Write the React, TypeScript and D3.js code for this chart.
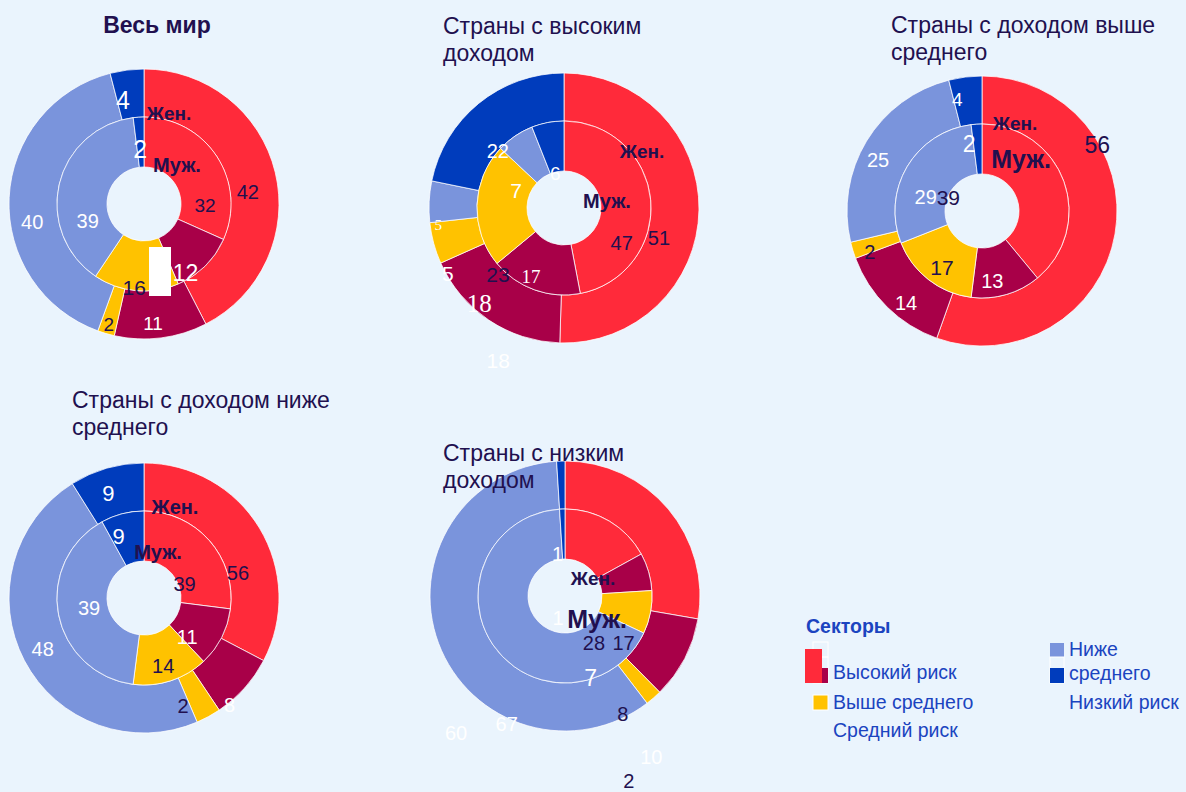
import React, { useEffect, useRef } from 'react';
import * as d3 from 'd3';

// sectors (legend order) and their colours
const categories = ['Высокий риск', 'Выше среднего', 'Средний риск', 'Ниже среднего', 'Низкий риск'];
const sectorColors = ['#ff2a3a', '#a80048', '#ffc200', '#7a94dc', '#003cbc'];

const panelTitles = [
  ['Весь мир'],
  ['Страны с высоким', 'доходом'],
  ['Страны с доходом выше', 'среднего'],
  ['Страны с доходом ниже', 'среднего'],
  ['Страны с низким', 'доходом'],
];

// outer ring = Жен., inner ring = Муж. (slice sizes)
const womenValues = [
  [42, 11, 2, 40, 4],
  [51, 18, 5, 5, 22],
  [56, 14, 2, 25, 4],
  [33, 8, 3, 48, 9],
  [28, 10, 2, 60, 1],
];
const menValues = [
  [32, 12, 16, 39, 2],
  [47, 17, 23, 7, 6],
  [39, 13, 17, 29, 2],
  [27, 11, 14, 40, 8],
  [17, 7, 8, 67, 1],
];

// printed labels (not always equal to the slice size)
const womenLabels = [
  ['42', '11', '2', '40', '4'],
  ['51', '18', '5', '5', '22'],
  ['56', '14', '2', '25', '4'],
  ['56', '8', '2', '48', '9'],
  ['28', '10', '2', '60', '1'],
];
const menLabels = [
  ['32', '12', '16', '39', '2'],
  ['47', '17', '23', '7', '6'],
  ['39', '13', '17', '29', '2'],
  ['39', '11', '14', '39', '9'],
  ['17', '7', '8', '67', '1'],
];

// ---- layout / style (not data) ----
const W = 1186;
const H = 792;
const BG = '#eaf4fd';
const DARK = '#21104f';
const LEGEND_BLUE = '#1b44c0';
const SANS = '"Liberation Sans", Arial, sans-serif';
const SERIF = '"Liberation Serif", "Times New Roman", serif';

const centers = [[144, 204], [564, 208], [982, 211], [144, 598], [565, 596]];
const R_OUT = 135;
const R_MID = 87;
const R_IN = 37;

// label nudges from the arc centroid: [dx, dy, fontSize, tone, serif]
type Nudge = [number, number, number, 'd' | 'w', boolean?];
const womenNudges: Nudge[][] = [
  [[-4, 14, 20, 'd'], [-5, 9, 19, 'w'], [-4, 14, 19, 'd'], [-1, 23, 20, 'w'], [-7, 6, 25, 'w']],
  [[-16, 28, 20, 'd'], [-23, 3, 25, 'w', true], [-9, 36, 21, 'w'], [-15, 22, 15, 'w', true], [4, 29, 20, 'w']],
  [[6, -85, 23, 'd'], [2, 13, 20, 'w'], [-6, 9, 20, 'd'], [-9, 6, 20, 'w'], [-11, -1, 19, 'w']],
  [[-1, 32, 20, 'd'], [3, 33, 20, 'w'], [-14, 10, 20, 'd'], [-3, 0, 20, 'w'], [-5, 2, 22, 'w']],
  [[-56, 118, 20, 'd'], [-12, 110, 20, 'w'], [-9, 101, 20, 'd'], [-5, 98, 20, 'w'], [-4, 69, 20, 'w']],
];
const menNudges: Nudge[][] = [
  [[9, 35, 19, 'd'], [-2, 25, 23, 'w'], [-4, 22, 21, 'd'], [4, 31, 20, 'w'], [0, 7, 25, 'w']],
  [[-4, 41, 20, 'd'], [-12, 10, 19, 'w', true], [-4, 68, 21, 'd'], [-13, 34, 21, 'w'], [3, 26, 19, 'w']],
  [[-92, 7, 21, 'd'], [-7, 10, 20, 'w'], [-2, 8, 21, 'd'], [-3, 18, 20, 'w'], [-9, -5, 23, 'w']],
  [[-6, 27, 20, 'd'], [-12, 11, 20, 'w'], [0, 9, 20, 'd'], [6, -2, 20, 'w'], [-10, -1, 22, 'w']],
  [[27, 100, 20, 'd'], [-34, 99, 23, 'w'], [-3, 106, 20, 'd'], [-7, 93, 20, 'w'], [-5, 84, 20, 'w']],
];
// duplicated "18" printed under the high-income chart (outer crimson slice)
const extraLabel = { panel: 1, slice: 1, text: '18', dx: -4, dy: 60, size: 21 };

// "Жен." / "Муж." captions relative to the chart centre: [dx, dy, size]
const womenCaption = [[25, -91, 19], [78, -57, 19], [33, -88, 19], [31, -91, 20], [28, -18, 19]];
const menCaption = [[33, -39, 20], [43, -7, 20], [39, -52, 25], [14, -46, 20], [32, 23, 25]];

// titles: [x, firstBaseline, anchor, bold]
const titlePos: [number, number, string, boolean][] = [
  [157, 33, 'middle', true],
  [443, 34, 'start', false],
  [891, 33, 'start', false],
  [72, 408, 'start', false],
  [443, 461, 'start', false],
];

// legend swatches: [category index, x, y, w, h, outlined]
const legendSwatches: [number, number, number, number, number, boolean][] = [
  [-1, 813, 642, 15, 15, true],
  [-1, 813, 657, 15, 26, true],
  [1, 813, 668, 15, 15, false],
  [0, 805, 649, 17, 34, false],
  [2, 813, 695, 15, 15, true],
  [3, 1050, 643, 14, 14, false],
  [-1, 1050, 657, 14, 26, true],
  [4, 1050, 668, 14, 15, false],
];
const legendTexts: [string, number, number][] = [
  ['Высокий риск', 833, 679],
  ['Выше среднего', 833, 709],
  ['Средний риск', 833, 737],
  ['Ниже', 1069, 656],
  ['среднего', 1069, 680],
  ['Низкий риск', 1069, 709],
];

const App = () => {
  const svgRef = useRef<SVGSVGElement>(null);

  useEffect(() => {
    const svg = d3.select(svgRef.current);
    svg.selectAll('*').remove();

    svg.append('rect').attr('width', W).attr('height', H).attr('fill', BG);

    const color = d3.scaleOrdinal<number, string>().domain(d3.range(categories.length)).range(sectorColors);
    const pie = d3.pie<number>().sort(null).value(d => d);
    const outerArc = d3.arc<d3.PieArcDatum<number>>().innerRadius(R_MID).outerRadius(R_OUT);
    const innerArc = d3.arc<d3.PieArcDatum<number>>().innerRadius(R_IN).outerRadius(R_MID);

    centers.forEach(([cx, cy], p) => {
      const g = svg.append('g').attr('transform', `translate(${cx},${cy})`);

      const rings = [
        { values: womenValues[p], labels: womenLabels[p], nudges: womenNudges[p], arc: outerArc },
        { values: menValues[p], labels: menLabels[p], nudges: menNudges[p], arc: innerArc },
      ];

      const arcsByRing = rings.map(ring => pie(ring.values));

      rings.forEach((ring, r) => {
        g.append('g')
          .selectAll('path')
          .data(arcsByRing[r])
          .enter()
          .append('path')
          .attr('d', ring.arc)
          .attr('fill', (d, i) => color(i))
          .attr('stroke', '#ffffff')
          .attr('stroke-opacity', 0.75)
          .attr('stroke-width', 1);
      });

      rings.forEach((ring, r) => {
        arcsByRing[r].forEach((d, i) => {
          const [x, y] = ring.arc.centroid(d);
          const [dx, dy, size, tone, serif] = ring.nudges[i];
          g.append('text')
            .attr('x', x + dx)
            .attr('y', y + dy)
            .attr('text-anchor', 'middle')
            .attr('dominant-baseline', 'central')
            .attr('fill', tone === 'd' ? DARK : '#ffffff')
            .style('font-family', serif ? SERIF : SANS)
            .style('font-size', `${size}px`)
            .text(ring.labels[i]);
        });
      });

      if (extraLabel.panel === p) {
        const [x, y] = outerArc.centroid(arcsByRing[0][extraLabel.slice]);
        g.append('text')
          .attr('x', x + extraLabel.dx)
          .attr('y', y + extraLabel.dy)
          .attr('text-anchor', 'middle')
          .attr('dominant-baseline', 'central')
          .attr('fill', '#ffffff')
          .style('font-family', SANS)
          .style('font-size', `${extraLabel.size}px`)
          .text(extraLabel.text);
      }

      [[womenCaption[p], 'Жен.'], [menCaption[p], 'Муж.']].forEach(([pos, txt]) => {
        const [dx, dy, size] = pos as number[];
        g.append('text')
          .attr('x', dx)
          .attr('y', dy)
          .attr('text-anchor', 'middle')
          .attr('dominant-baseline', 'central')
          .attr('fill', DARK)
          .style('font-family', SANS)
          .style('font-weight', 'bold')
          .style('font-size', `${size}px`)
          .text(txt as string);
      });

      // stray white block on the world chart
      if (p === 0) {
        g.append('rect').attr('x', 5).attr('y', 43).attr('width', 22).attr('height', 49).attr('fill', '#ffffff');
      }
    });

    // titles
    panelTitles.forEach((lines, p) => {
      const [x, y, anchor, bold] = titlePos[p];
      const t = svg.append('text')
        .attr('x', x)
        .attr('y', y)
        .attr('text-anchor', anchor)
        .attr('fill', DARK)
        .style('font-family', SANS)
        .style('font-size', '23px')
        .style('font-weight', bold ? 'bold' : 'normal');
      lines.forEach((line, i) => {
        t.append('tspan').attr('x', x).attr('dy', i === 0 ? 0 : 27).text(line);
      });
    });

    // legend
    svg.append('text')
      .attr('x', 806)
      .attr('y', 633)
      .attr('fill', LEGEND_BLUE)
      .style('font-family', SANS)
      .style('font-weight', 'bold')
      .style('font-size', '19.5px')
      .text('Секторы');

    legendSwatches.forEach(([ci, x, y, w, h, outlined]) => {
      svg.append('rect')
        .attr('x', x)
        .attr('y', y)
        .attr('width', w)
        .attr('height', h)
        .attr('fill', ci < 0 ? 'none' : color(ci))
        .attr('stroke', outlined ? '#ffffff' : 'none')
        .attr('stroke-width', 1);
    });

    legendTexts.forEach(([txt, x, y]) => {
      svg.append('text')
        .attr('x', x)
        .attr('y', y)
        .attr('fill', LEGEND_BLUE)
        .style('font-family', SANS)
        .style('font-size', '19.5px')
        .text(txt);
    });
  }, []);

  return (
    <svg
      ref={svgRef}
      width={W}
      height={H}
      style={{ position: 'absolute', left: 0, top: 0, display: 'block' }}
    />
  );
};

export default App;
